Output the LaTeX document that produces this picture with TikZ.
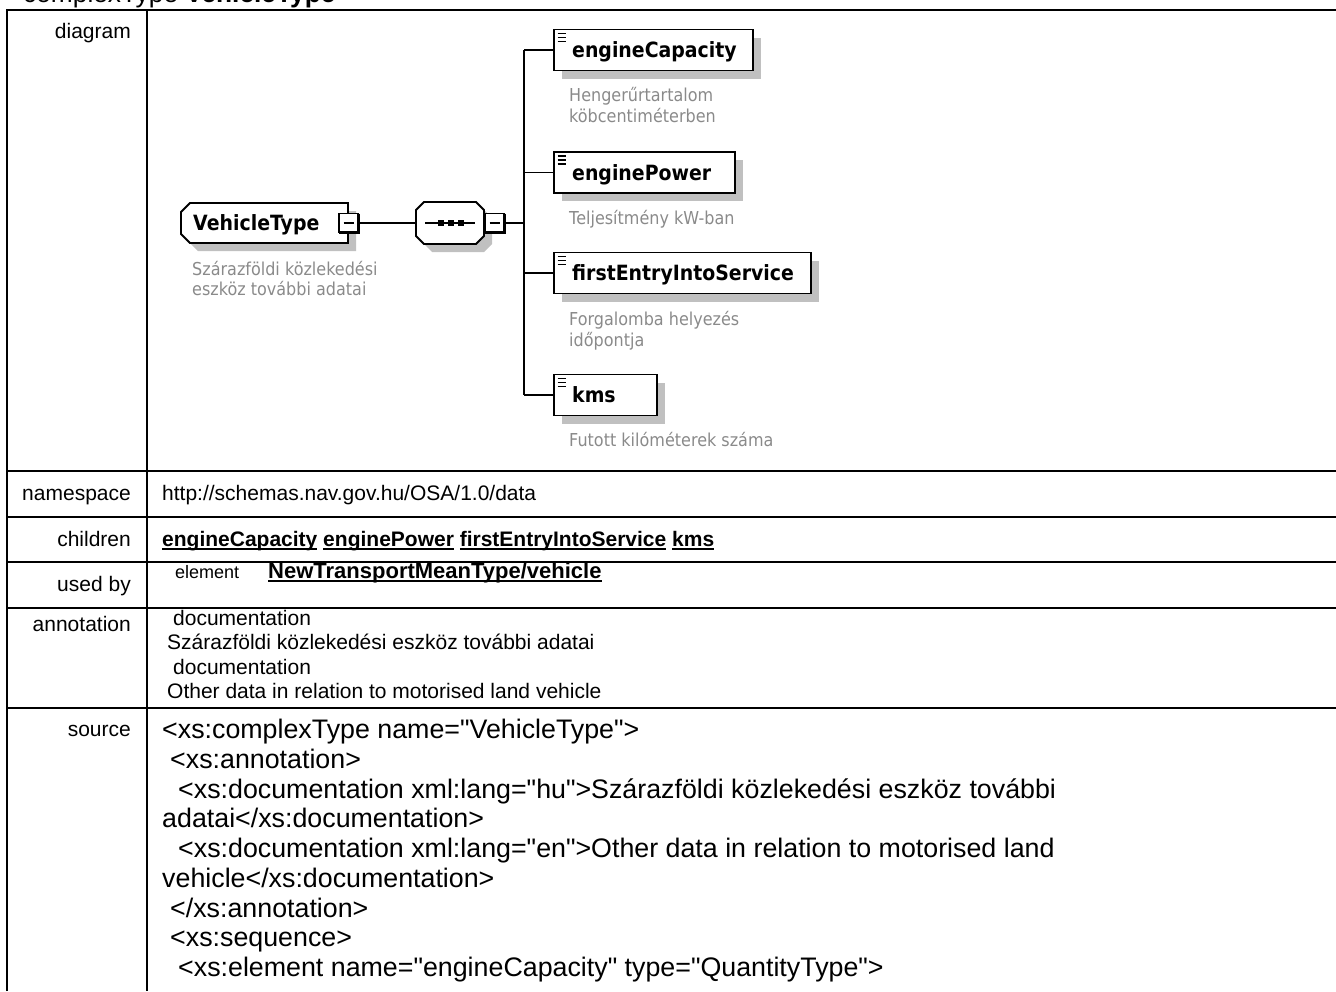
\documentclass[tikz,border=0pt]{standalone}
\usepackage{fontspec}
\setmainfont{Liberation Sans}
\newfontfamily\plainfont{Liberation Sans}
\newfontfamily\diafont[FakeStretch=0.9]{DejaVu Sans}
\usetikzlibrary{calc,shadows}
\definecolor{shcol}{RGB}{192,192,192}
\definecolor{desccol}{RGB}{138,138,138}
\newcommand{\lnk}[1]{\setbox0=\hbox{\bfseries #1}\rlap{\rule[-3.8pt]{\wd0}{1.7pt}}\box0\relax}
\tikzset{
  tline/.style={line width=2pt},
  lab/.style={anchor=base east,inner sep=0pt,font=\fontsize{21}{25}\selectfont},
  cell/.style={anchor=base west,inner sep=0pt,font=\fontsize{21}{25}\selectfont},
  srcline/.style={anchor=base west,inner sep=0pt,font=\plainfont\fontsize{26.8}{30}\selectfont},
  shad/.style={drop shadow={shadow xshift=8pt,shadow yshift=-8pt,fill=shcol,opacity=1}},
  elbox/.style={draw,line width=1.8pt,fill=white,inner sep=0pt,outer sep=0pt,anchor=north west,minimum height=41pt,shad},
  eltext/.style={anchor=base west,inner sep=0pt,font=\diafont\bfseries\fontsize{21}{24}\selectfont},
  desc/.style={anchor=base west,inner sep=0pt,text=desccol,font=\diafont\fontsize{17.8}{21}\selectfont},
  wire/.style={line width=1.5pt},
  expbox/.style={draw,line width=1.5pt,fill=white,minimum width=19pt,minimum height=19pt,inner sep=0pt,outer sep=0pt},
  frame/.style={inner sep=0pt,outer sep=0pt},
}
\begin{document}
\begin{tikzpicture}[x=1pt,y=-1pt]
\useasboundingbox (0,0) rectangle (1336,991);
% title (cut at the top edge, as in the reference)
\begin{scope}
\clip (0,0) rectangle (1336,991);
\node[anchor=base west,inner sep=0pt,font=\fontsize{26.3}{30}\selectfont] (title) at (23,2) {complexType \textbf{VehicleType}};
\end{scope}
% table
\draw[tline] (7,991) -- (7,10) -- (1336,10);
\draw[tline] (147,10) -- (147,991);
\foreach \yy in {471,516.5,562,607.5,708} \draw[tline] (7,\yy) -- (1336,\yy);
% labels
\node[lab] (l1) at (131,38) {diagram};
\node[lab] (l2) at (131,500) {namespace};
\node[lab] (l3) at (131,546) {children};
\node[lab] (l4) at (131,591) {used by};
\node[lab] (l5) at (131,631) {annotation};
\node[lab] (l6) at (131,736.5) {source};
% cells
\node[cell] (ns) at (162,500) {http://schemas.nav.gov.hu/OSA/1.0/data};
\node[cell] (ch) at (162,546) {\lnk{engineCapacity} \lnk{enginePower} \lnk{firstEntryIntoService} \lnk{kms}};
\node[cell,font=\fontsize{18}{22}\selectfont] (ub1) at (175,578) {element};
\node[cell,font=\fontsize{22}{26}\selectfont] (ub2) at (268,578) {\lnk{NewTransportMeanType/vehicle}};
\node[cell] (an1) at (173,625) {documentation};
\node[cell] (an2) at (167,649.5) {Szárazföldi közlekedési eszköz további adatai};
\node[cell] (an3) at (173,674) {documentation};
\node[cell] (an4) at (167,698.5) {Other data in relation to motorised land vehicle};
% source
\node[srcline] (s1) at (162,738.5) {<xs:complexType name="VehicleType">};
\node[srcline] (s2) at (170,768.25) {<xs:annotation>};
\node[srcline] (s3) at (178,798) {<xs:documentation xml:lang="hu">Szárazföldi közlekedési eszköz további};
\node[srcline] (s4) at (162,827.75) {adatai</xs:documentation>};
\node[srcline] (s5) at (178,857.5) {<xs:documentation xml:lang="en">Other data in relation to motorised land};
\node[srcline] (s6) at (162,887.25) {vehicle</xs:documentation>};
\node[srcline] (s7) at (170,917) {</xs:annotation>};
\node[srcline] (s8) at (170,946.75) {<xs:sequence>};
\node[srcline] (s9) at (178,976.5) {<xs:element name="engineCapacity" type="QuantityType">};
% ---- diagram ----
% VehicleType
\node[frame,minimum width=167pt,minimum height=40pt,anchor=north west] (vt) at (181,203) {};
\draw[line width=1.8pt,fill=white,shad] ($(vt.north west)+(9,0)$) -- (vt.north east) -- (vt.south east) -- ($(vt.south west)+(9,0)$) -- ($(vt.south west)+(0,-9)$) -- ($(vt.north west)+(0,9)$) -- cycle;
\node[eltext] (vtt) at (193,230.7) {VehicleType};
\node[desc] (vtd1) at (192,275) {Szárazföldi közlekedési};
\node[desc] (vtd2) at (192,295) {eszköz további adatai};
% sequence
\node[frame,minimum width=68pt,minimum height=42pt,anchor=north west] (seq) at (416,202) {};
\draw[line width=1.8pt,fill=white,shad] ($(seq.north west)+(8,0)$) -- ($(seq.north east)+(-8,0)$) -- ($(seq.north east)+(0,8)$) -- ($(seq.south east)+(0,-8)$) -- ($(seq.south east)+(-8,0)$) -- ($(seq.south west)+(8,0)$) -- ($(seq.south west)+(0,-8)$) -- ($(seq.north west)+(0,8)$) -- cycle;
\draw[wire] ($(seq.west)+(9,0)$) -- ($(seq.east)+(-9,0)$);
\foreach \sx in {440.5,450.5,460.5} \fill (\sx-3,220) rectangle (\sx+3,226);
% expanders
\node[expbox] (vtx) at (348.5,223) {};
\node[expbox] (sqx) at (494.5,223) {};
\foreach \e in {vtx,sqx} {
  \draw[line width=3pt] (\e.north east) -- (\e.south east) -- (\e.south west);
  \draw[line width=1.5pt] ($(\e.center)+(-5,0)$) -- ($(\e.center)+(5,0)$);
}
% child elements
\node[elbox,minimum width=199pt] (ec) at (554,29.5) {};
\node[elbox,minimum width=181pt] (ep) at (554,152) {};
\node[elbox,minimum width=257pt] (fe) at (554,252.5) {};
\node[elbox,minimum width=103pt] (km) at (554,374.5) {};
\foreach \n in {ec,ep,fe,km} {
  \foreach \dy in {4,8,12} \draw[line width=1.6pt] ($(\n.north west)+(3.5,\dy)$) -- ++(8,0);
}
\node[eltext] (ect) at (572,57.7) {engineCapacity};
\node[eltext] (ept) at (572,180.2) {enginePower};
\node[eltext] (fet) at (572,280.7) {firstEntryIntoService};
\node[eltext] (kmt) at (572,402.7) {kms};
\node[desc] (ecd1) at (569,101.5) {Hengerűrtartalom};
\node[desc] (ecd2) at (569,122.5) {köbcentiméterben};
\node[desc] (epd) at (569,224) {Teljesítmény kW-ban};
\node[desc] (fed1) at (569,325) {Forgalomba helyezés};
\node[desc] (fed2) at (569,346) {időpontja};
\node[desc] (kmd) at (569,446) {Futott kilóméterek száma};
% connectors
\coordinate (bm) at (524,223);
\coordinate (b1) at (524,50);
\coordinate (b2) at (524,172.5);
\coordinate (b3) at (524,273);
\coordinate (b4) at (524,395);
\draw[wire] (vtx.east) -- (seq.west);
\draw[wire] (sqx.east) -- (bm);
\draw[wire] (b1) -- (b4);
\draw[wire] (b1) -- (ec.west);
\draw[wire] (b2) -- (ep.west);
\draw[wire] (b3) -- (fe.west);
\draw[wire] (b4) -- (km.west);
\end{tikzpicture}
\end{document}
